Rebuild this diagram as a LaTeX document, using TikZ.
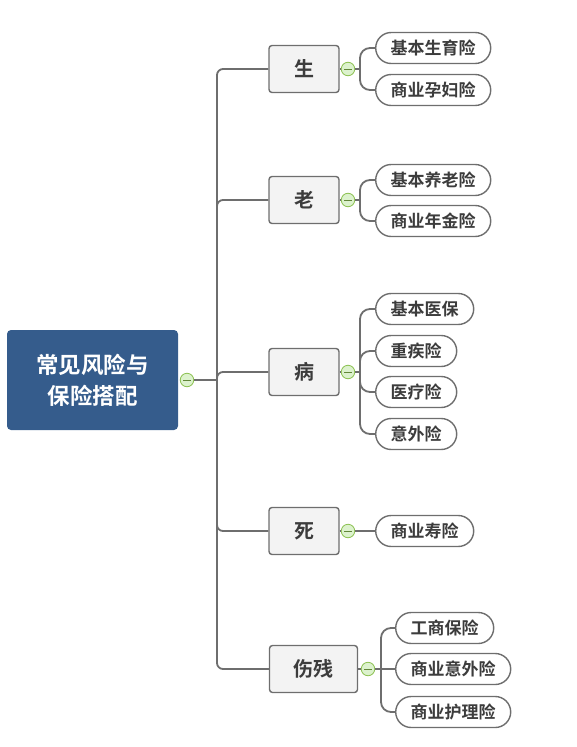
\documentclass[tikz,border=0pt]{standalone}
\usepackage{fontspec}
\setmainfont{Noto Sans CJK SC}[BoldFont={Noto Sans CJK SC Bold}]
\usepackage{tikz}
\usetikzlibrary{positioning}

\definecolor{rootblue}{HTML}{355C8C}
\definecolor{linegray}{HTML}{6E6E6E}
\definecolor{boxfill}{HTML}{F3F3F3}
\definecolor{textgray}{HTML}{3C3C3C}
\definecolor{dotfill}{HTML}{DCF2CD}
\definecolor{dotline}{HTML}{8CC152}

\tikzset{
  rootbox/.style={fill=rootblue, rounded corners=4pt, minimum width=171pt,
    minimum height=100pt, align=center, text=white,
    font=\bfseries\fontsize{22.5pt}{31pt}\selectfont},
  topic/.style={draw=linegray, line width=1.4pt, fill=boxfill, rounded corners=3pt,
    minimum width=70pt, minimum height=47pt, inner xsep=24pt, text=textgray,
    font=\bfseries\fontsize{20pt}{24pt}\selectfont},
  leaf/.style={draw=linegray, line width=1.4pt, fill=white, rounded corners=15.5pt,
    minimum height=31pt, inner xsep=15pt, anchor=west, text=textgray,
    font=\bfseries\fontsize{17pt}{19pt}\selectfont},
  fold/.style={circle, draw=dotline, fill=dotfill, line width=0.8pt,
    minimum size=13.5pt, inner sep=0pt,
    path picture={\draw[dotline!70!black, line width=0.8pt]
      ([xshift=-4pt]path picture bounding box.center) --
      ([xshift=4pt]path picture bounding box.center);}},
  link/.style={draw=linegray, line width=1.8pt, rounded corners=6pt},
  twig/.style={link, rounded corners=10pt}
}

\begin{document}
\begin{tikzpicture}[x=1pt, y=-1pt]
  \useasboundingbox (0,0) rectangle (576,747);

  % root
  \node[rootbox] at (92.5,380) (root) {常见风险与\\保险搭配};
  \node[fold] at (187,380) (rootfold) {};
  \coordinate (trunk) at (217,380);

  % topics
  \node[topic] at (304,69) (sheng) {生};
  \node[topic] at (304,200) (lao) {老};
  \node[topic] at (304,372) (bing) {病};
  \node[topic] at (304,531) (si) {死};
  \node[topic] at (313.5,669) (shang) {伤残};

  \node[fold] at (348,69) (shengfold) {};
  \node[fold] at (348,200) (laofold) {};
  \node[fold] at (348,372) (bingfold) {};
  \node[fold] at (348,531) (sifold) {};
  \node[fold] at (368,669) (shangfold) {};

  \coordinate (shengjoin) at (360,69);
  \coordinate (laojoin) at (360,200);
  \coordinate (bingjoin) at (360,372);
  \coordinate (sijoin) at (360,531);
  \coordinate (shangjoin) at (381,669);

  % leaves
  \node[leaf] at (375,48) (sheng1) {基本生育险};
  \node[leaf] at (375,90) (sheng2) {商业孕妇险};
  \node[leaf] at (375,180) (lao1) {基本养老险};
  \node[leaf] at (375,221) (lao2) {商业年金险};
  \node[leaf] at (375,309) (bing1) {基本医保};
  \node[leaf] at (375,351) (bing2) {重疾险};
  \node[leaf] at (375,392) (bing3) {医疗险};
  \node[leaf] at (375,434) (bing4) {意外险};
  \node[leaf] at (375,531) (si1) {商业寿险};
  \node[leaf] at (395,628) (shang1) {工商保险};
  \node[leaf] at (395,669) (shang2) {商业意外险};
  \node[leaf] at (395,712) (shang3) {商业护理险};

  % links
  \draw[link, line width=2.6pt] (rootfold.east) -- (trunk);
  \draw[link] (trunk) |- (sheng.west);
  \draw[link] (trunk) |- (lao.west);
  \draw[link] (trunk) |- (bing.west);
  \draw[link] (trunk) |- (si.west);
  \draw[link] (trunk) |- (shang.west);

  \draw[link] (sheng.east) -- (shengfold.west);
  \draw[link] (lao.east) -- (laofold.west);
  \draw[link] (bing.east) -- (bingfold.west);
  \draw[link] (si.east) -- (sifold.west);
  \draw[link] (shang.east) -- (shangfold.west);

  \draw[link] (shengfold.east) -- (shengjoin);
  \draw[twig] (shengjoin) |- (sheng1.west);
  \draw[twig] (shengjoin) |- (sheng2.west);
  \draw[link] (laofold.east) -- (laojoin);
  \draw[twig] (laojoin) |- (lao1.west);
  \draw[twig] (laojoin) |- (lao2.west);
  \draw[link] (bingfold.east) -- (bingjoin);
  \draw[twig] (bingjoin) |- (bing1.west);
  \draw[twig] (bingjoin) |- (bing2.west);
  \draw[twig] (bingjoin) |- (bing3.west);
  \draw[twig] (bingjoin) |- (bing4.west);
  \draw[link] (sifold.east) -- (si1.west);
  \draw[link] (shangfold.east) -- (shangjoin);
  \draw[twig] (shangjoin) |- (shang1.west);
  \draw[link] (shangjoin) -- (shang2.west);
  \draw[twig] (shangjoin) |- (shang3.west);
\end{tikzpicture}
\end{document}
